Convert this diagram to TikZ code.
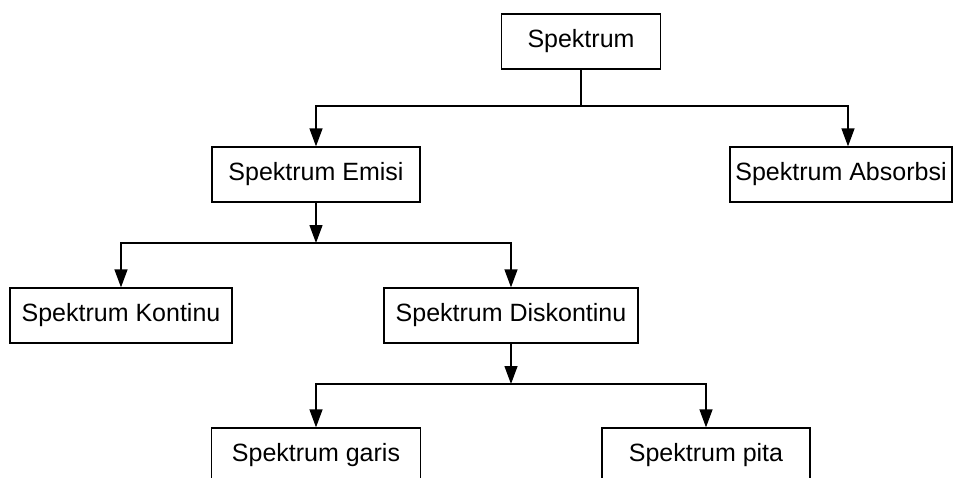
\documentclass[tikz,border=0pt]{standalone}
\usepackage{fontspec}
\setmainfont{Liberation Sans}
\usetikzlibrary{arrows.meta}
\begin{document}
\begin{tikzpicture}[x=1pt,y=-1pt,
  box/.style={draw, line width=1.3pt, minimum height=55pt, inner sep=0pt,
    font=\fontsize{25pt}{28pt}\selectfont, anchor=center},
  conn/.style={line width=1.3pt},
  arr/.style={conn, -{Triangle[length=18pt,width=13pt]}}]
\useasboundingbox (0,0) rectangle (953,477);
\clip (0,0) rectangle (953,477);
\node[box, minimum width=159pt] (spek) at (581,41.5) {Spektrum};
\node[box, minimum width=208pt] (emisi) at (316,174.5) {Spektrum Emisi};
\node[box, minimum width=222pt] (absorb) at (841,174.5) {Spektrum Absorbsi};
\node[box, minimum width=222pt] (kontinu) at (121,315.5) {Spektrum Kontinu};
\node[box, minimum width=254pt] (disk) at (511,315.5) {Spektrum Diskontinu};
\node[box, minimum width=209pt] (garis) at (316,455.5) {Spektrum garis};
\node[box, minimum width=208pt] (pita) at (706,455.5) {Spektrum pita};
% level 0
\coordinate (j0) at (581,106);
\coordinate (r0) at (848,106);
\draw[conn] (spek.south) -- (j0);
\draw[arr] (j0) -| (emisi.north);
\draw[arr] (j0) -- (r0) -- (r0 |- absorb.north);
% level 1
\coordinate (j1) at (316,243);
\draw[arr] (emisi.south) -- (j1);
\draw[arr] (j1) -| (kontinu.north);
\draw[arr] (j1) -| (disk.north);
% level 2
\coordinate (j2) at (511,384);
\draw[arr] (disk.south) -- (j2);
\draw[arr] (j2) -| (garis.north);
\draw[arr] (j2) -| (pita.north);
\end{tikzpicture}
\end{document}
